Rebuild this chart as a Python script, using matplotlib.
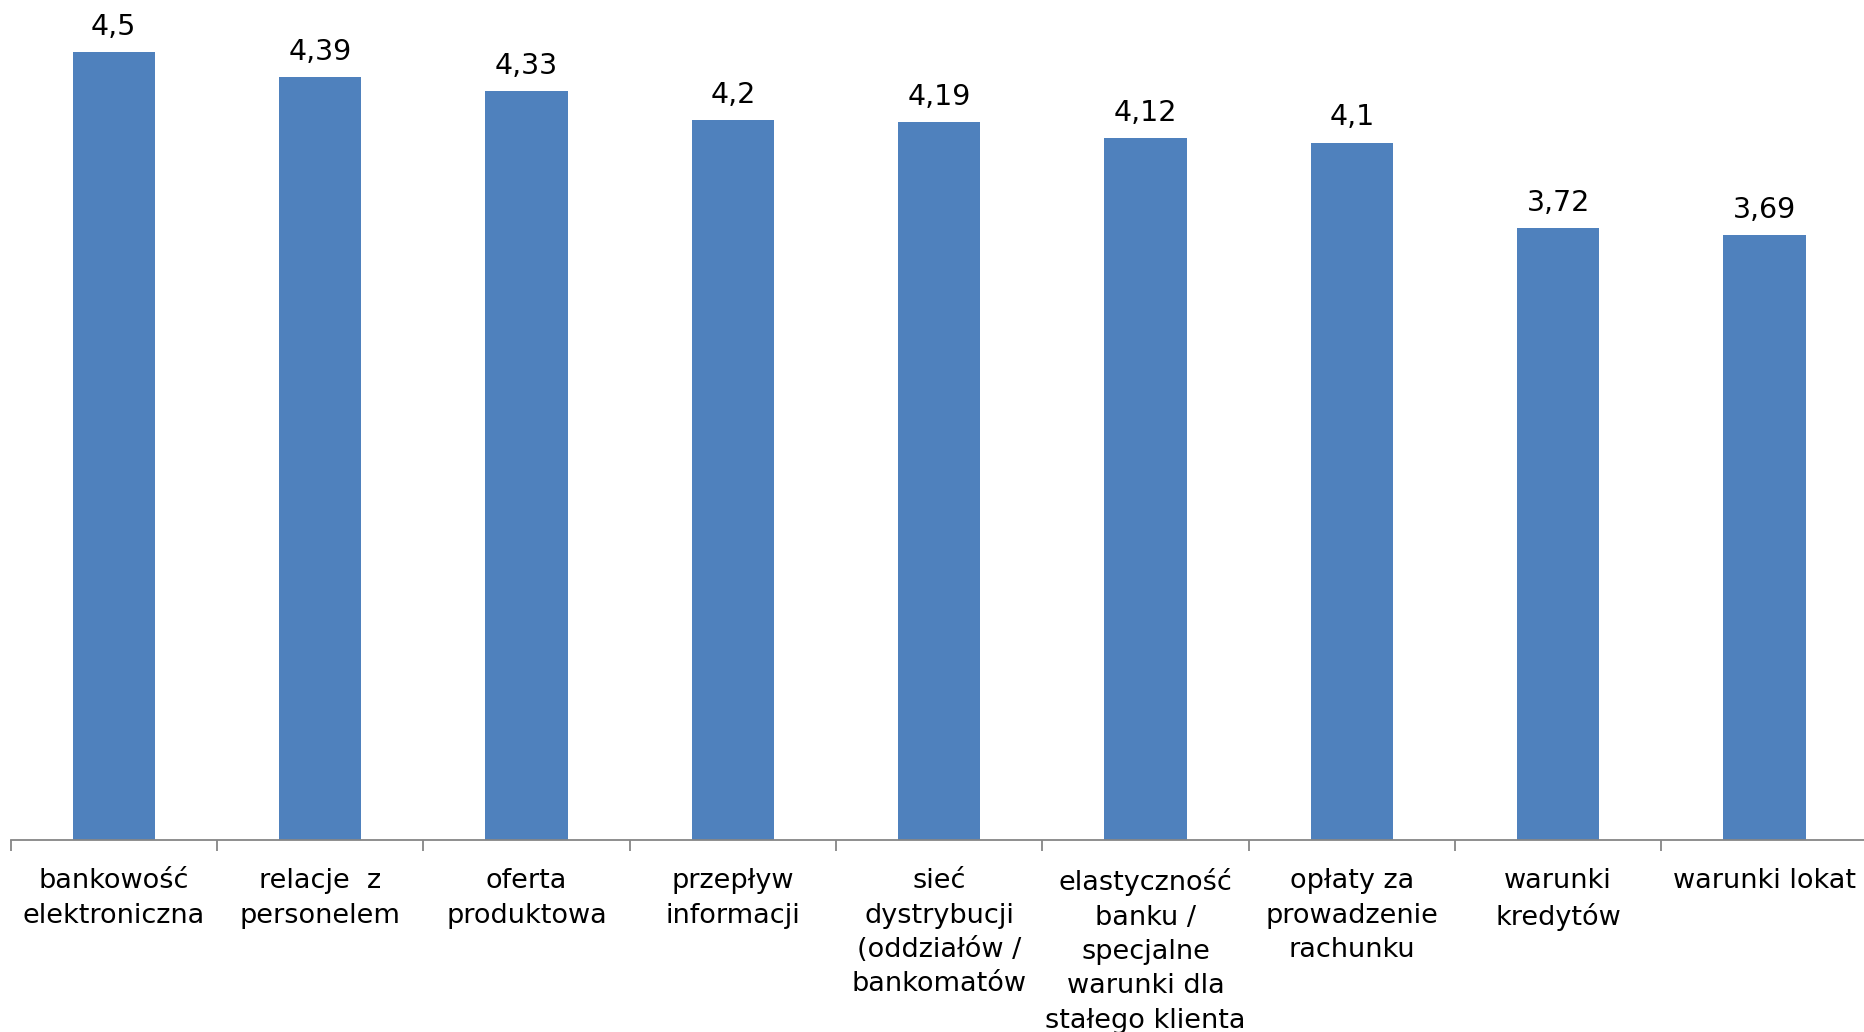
import numpy as np
import matplotlib
matplotlib.use('Agg')
import matplotlib.pyplot as plt
from matplotlib.ticker import FixedLocator

categories = ['bankowość\nelektroniczna',
              'relacje  z\npersonelem',
              'oferta\nproduktowa',
              'przepływ\ninformacji',
              'sieć\ndystrybucji\n(oddziałów /\nbankomatów',
              'elastyczność\nbanku /\nspecjalne\nwarunki dla\nstałego klienta',
              'opłaty za\nprowadzenie\nrachunku',
              'warunki\nkredytów',
              'warunki lokat']
values = [4.5, 4.39, 4.33, 4.2, 4.19, 4.12, 4.1, 3.72, 3.69]

plt.rcParams['font.family'] = ['DejaVu Sans']

fig = plt.figure(figsize=(18.64, 10.32), dpi=100)
ax = fig.add_axes([0.0057, 0.1856, 0.9963, 0.8144])

x = np.arange(len(values))
bars = ax.bar(x, values, width=0.4, color='#4F81BD')

for xi, v in zip(x, values):
    ax.annotate(f'{v:g}'.replace('.', ','), (xi, v), xytext=(0, 8),
                textcoords='offset points', ha='center', va='bottom',
                fontsize=20.5, color='black')

ax.set_xlim(-0.5, len(values) - 0.5)
ax.set_ylim(1, 4.733)

ax.set_xticks(x)
ax.set_xticklabels(categories, fontsize=19.5, linespacing=1.42)
ax.xaxis.set_minor_locator(FixedLocator(np.arange(-0.5, len(values), 1.0)))
ax.tick_params(axis='x', which='major', length=0, pad=20)
ax.tick_params(axis='x', which='minor', length=8, color='#868686', width=1.3)
ax.set_yticks([])

for s in ['top', 'right', 'left']:
    ax.spines[s].set_visible(False)
ax.spines['bottom'].set_color('#868686')
ax.spines['bottom'].set_linewidth(1.3)

fig.savefig('out.png', dpi=100)
